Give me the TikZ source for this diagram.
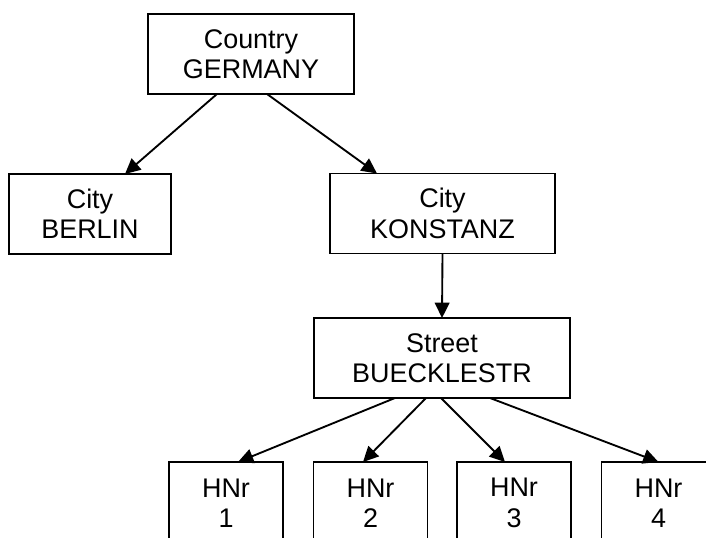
\documentclass[tikz,border=0pt]{standalone}
\usepackage{fontspec}
\setmainfont{Liberation Sans}
\usetikzlibrary{arrows.meta,calc}
\begin{document}
\begin{tikzpicture}[x=0.75pt,y=-0.75pt,
  box/.style={draw,line width=1.4pt,rectangle,inner sep=0pt,outer sep=0pt,align=center,
    font=\fontsize{20.2}{22.8}\selectfont,minimum height=60pt},
  hbox/.style={box,minimum width=85.5pt,minimum height=61.5pt},
  link/.style={line width=1.4pt,-{Triangle[length=11.5pt,width=11pt]}}]
\useasboundingbox (0,0) rectangle (706,538);
\clip (0,0) rectangle (706,538);
\node[box,minimum width=154.5pt] (country) at (251,54) {Country\\GERMANY};
\node[box,minimum width=121.5pt] (berlin) at (90,214) {City\\BERLIN};
\node[box,minimum width=168.75pt] (konstanz) at (442.5,213.5) {City\\KONSTANZ};
\node[box,minimum width=192pt] (street) at (442,358) {Street\\BUECKLESTR};
\node[hbox] (h1) at (226,503) {HNr\\1};
\node[hbox] (h2) at (370.5,503) {HNr\\2};
\node[hbox] (h3) at (514,503) {HNr\\3};
\node[hbox] (h4) at (658.5,503) {HNr\\4};
\draw[link] ($(country.south)+(-34,0)$) -- ($(berlin.north)+(35,0)$);
\draw[link] ($(country.south)+(16,0)$) -- ($(konstanz.north)+(-65.5,0)$);
\draw[link] (konstanz.south) -- (street.north);
\draw[link] ($(street.south)+(-47,0)$) -- ($(h1.north)+(12,0)$);
\draw[link] ($(street.south)+(-16,0)$) -- ($(h2.north)+(-7.5,0)$);
\draw[link] ($(street.south)+(-1,0)$) -- ($(h3.north)+(-9,0)$);
\draw[link] ($(street.south)+(48,0)$) -- ($(h4.north)+(0,0)$);
\end{tikzpicture}
\end{document}
